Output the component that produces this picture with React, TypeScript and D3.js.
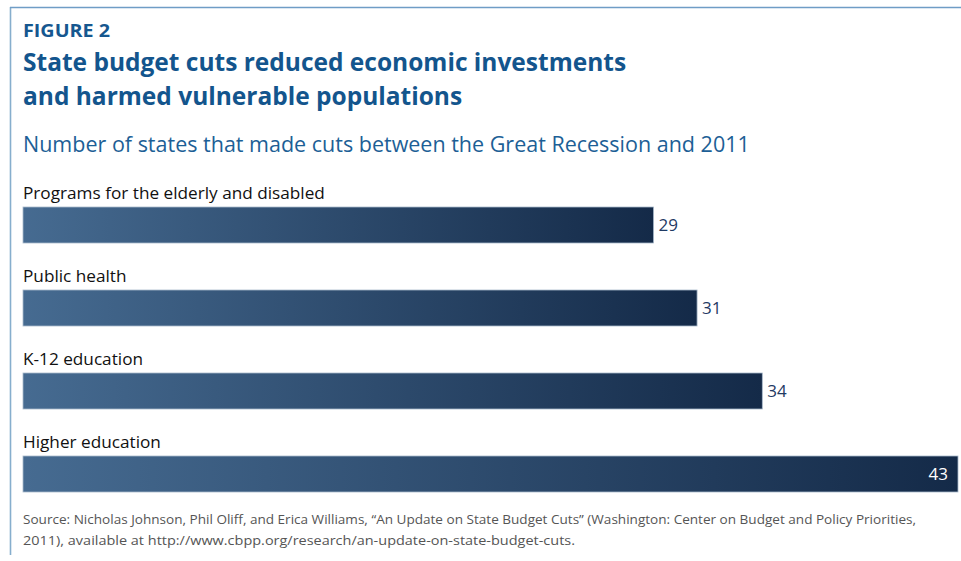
import React from "react";
import * as d3 from "d3";

const categories = [
  "Programs for the elderly and disabled",
  "Public health",
  "K-12 education",
  "Higher education",
];
const values = [29, 31, 34, 43];

const W = 961;
const H = 561;
const FONT = "'Open Sans', 'Noto Sans', sans-serif";

export default function App() {
  const x = d3.scaleLinear().domain([0, 43]).range([23, 958]);
  const y = d3
    .scaleBand()
    .domain(categories)
    .range([180, 512])
    .paddingInner(0)
    .paddingOuter(0);

  return (
    <svg
      width={W}
      height={H}
      style={{ position: "absolute", left: 0, top: 0, background: "#fff" }}
      fontFamily={FONT}
    >
      <defs>
        <linearGradient id="barGrad" x1="0" x2="1" y1="0" y2="0">
          <stop offset="0%" stopColor="#466b91" />
          <stop offset="100%" stopColor="#142a48" />
        </linearGradient>
      </defs>
      <rect width={W} height={H} fill="#fff" />
      <line x1={10.5} x2={10.5} y1={7} y2={555} stroke="#86aecd" strokeWidth={1.6} />
      <line x1={10} x2={W} y1={7.5} y2={7.5} stroke="#6f9dc6" strokeWidth={1.6} />

      <text x={23} y={37} fontSize={17} fontWeight={700} fill="#16578f" textLength={87} lengthAdjust="spacingAndGlyphs">
        FIGURE 2
      </text>
      <text x={23} y={71} fontSize={24.5} fontWeight={700} fill="#13558d">
        State budget cuts reduced economic investments
      </text>
      <text x={23} y={105} fontSize={24.5} fontWeight={700} fill="#13558d">
        and harmed vulnerable populations
      </text>
      <text x={23} y={152} fontSize={21.5} fill="#1d5f96">
        Number of states that made cuts between the Great Recession and 2011
      </text>

      {categories.map((c, i) => {
        const y0 = y(c)!;
        const v = values[i];
        const barY = y0 + 27;
        const barH = 36;
        const xe = x(v);
        const inside = i === categories.length - 1;
        return (
          <g key={c}>
            <text x={23} y={y0 + 19} fontSize={17.2} fill="#111">
              {c}
            </text>
            <rect
              x={x(0)}
              y={barY}
              width={xe - x(0)}
              height={barH}
              fill="url(#barGrad)"
              stroke="#a9bacb"
              strokeWidth={0.8}
            />
            <text
              x={inside ? 948 : xe + 5}
              y={barY + barH / 2 + 6}
              fontSize={17}
              textAnchor={inside ? "end" : "start"}
              fill={inside ? "#fff" : "#1f3a64"}
            >
              {v}
            </text>
          </g>
        );
      })}

      <text x={23} y={524} fontSize={13} fill="#555" textLength={893} lengthAdjust="spacingAndGlyphs">
        Source: Nicholas Johnson, Phil Oliff, and Erica Williams, “An Update on State Budget Cuts” (Washington: Center on Budget and Policy Priorities,
      </text>
      <text x={23} y={545} fontSize={13} fill="#555" textLength={552} lengthAdjust="spacingAndGlyphs">
        2011), available at http://www.cbpp.org/research/an-update-on-state-budget-cuts.
      </text>
    </svg>
  );
}
